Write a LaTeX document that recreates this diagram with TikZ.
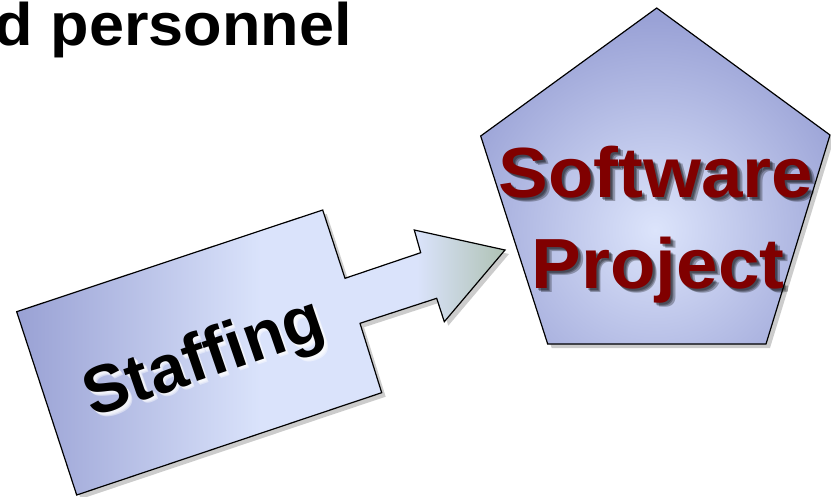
\documentclass[tikz,border=0pt]{standalone}
\usepackage{fontspec}
\setmainfont{Liberation Sans}
\definecolor{pentE}{HTML}{9AA2D6}
\definecolor{pentC}{HTML}{DCE4FB}
\definecolor{stfL}{HTML}{99A1D4}
\definecolor{stfM}{HTML}{DAE3FB}
\definecolor{stfR}{HTML}{AFC2B4}
\definecolor{maroon}{HTML}{800000}
\pgfdeclarehorizontalshading{staffshade}{100bp}{color(0bp)=(stfL); color(25bp)=(stfL); color(50bp)=(stfM); color(66bp)=(stfM); color(75bp)=(stfR); color(100bp)=(stfR)}
\begin{document}
\begin{tikzpicture}[x=1pt,y=-1pt,
  titletext/.style={font=\fontsize{60}{64}\selectfont\bfseries, inner sep=0pt, anchor=base east, xscale=1.05},
  swtext/.style={font=\fontsize{71}{75}\selectfont\bfseries, inner sep=0pt, anchor=base, xscale=1.05},
  stftext/.style={font=\fontsize{67}{70}\selectfont\bfseries, inner sep=0pt, anchor=center, rotate=19},
  softsh/.style={text=black, opacity=0.28},
  glow/.style={text=white, opacity=0.45},
  outline/.style={draw=black, line width=1.2pt, line join=miter},
  dropshadow/.style={fill=black, opacity=0.2}
]
\useasboundingbox (0,0) rectangle (831,496);
% title
\node[titletext] (title) at (352,45) {d personnel};
% pentagon
\coordinate (p1) at (656.7,8);
\coordinate (p2) at (830,135);
\coordinate (p3) at (766,344);
\coordinate (p4) at (547.7,344);
\coordinate (p5) at (480.7,136);
\fill[dropshadow] ([shift={(4,4)}]p1) -- ([shift={(4,4)}]p2) -- ([shift={(4,4)}]p3) -- ([shift={(4,4)}]p4) -- ([shift={(4,4)}]p5) -- cycle;
\fill[pentE] (p1) -- (p2) -- (p3) -- (p4) -- (p5) -- cycle;
\begin{scope}
  \clip (p1) -- (p2) -- (p3) -- (p4) -- (p5) -- cycle;
  \shade[inner color=pentC, outer color=pentE] (655,230) circle (210);
\end{scope}
\draw[outline] (p1) -- (p2) -- (p3) -- (p4) -- (p5) -- cycle;
% staffing arrow
\coordinate (a1) at (16.7,311.7);
\coordinate (a2) at (322.7,210);
\coordinate (a3) at (345,278.3);
\coordinate (a4) at (420.7,252.7);
\coordinate (a5) at (414.3,230);
\coordinate (a6) at (505,250);
\coordinate (a7) at (444.3,321.7);
\coordinate (a8) at (436.7,298.3);
\coordinate (a9) at (360,323.3);
\coordinate (a10) at (381.7,392.7);
\coordinate (a11) at (76.7,495);
\fill[dropshadow] ([shift={(4,4)}]a1) -- ([shift={(4,4)}]a2) -- ([shift={(4,4)}]a3) -- ([shift={(4,4)}]a4) -- ([shift={(4,4)}]a5) -- ([shift={(4,4)}]a6) -- ([shift={(4,4)}]a7) -- ([shift={(4,4)}]a8) -- ([shift={(4,4)}]a9) -- ([shift={(4,4)}]a10) -- ([shift={(4,4)}]a11) -- cycle;
\shade[shading=staffshade] (a1) -- (a2) -- (a3) -- (a4) -- (a5) -- (a6) -- (a7) -- (a8) -- (a9) -- (a10) -- (a11) -- cycle;
\draw[outline] (a1) -- (a2) -- (a3) -- (a4) -- (a5) -- (a6) -- (a7) -- (a8) -- (a9) -- (a10) -- (a11) -- cycle;
% pentagon text: soft shadow then text
\foreach \d in {2,3,4.5} {
  \node[swtext, softsh] at (656+\d,197+\d) {Software};
  \node[swtext, softsh] at (658+\d,288+\d) {Project};
}
\node[swtext, text=maroon] (sw) at (656,197) {Software};
\node[swtext, text=maroon] (pr) at (658,288) {Project};
% staffing text: white glow then text
\foreach \d in {1.5,2.5,3.5} {
  \node[stftext, glow] at (205+\d,361+\d) {Staffing};
}
\node[stftext, text=black] (stf) at (205,361) {Staffing};
\end{tikzpicture}
\end{document}
